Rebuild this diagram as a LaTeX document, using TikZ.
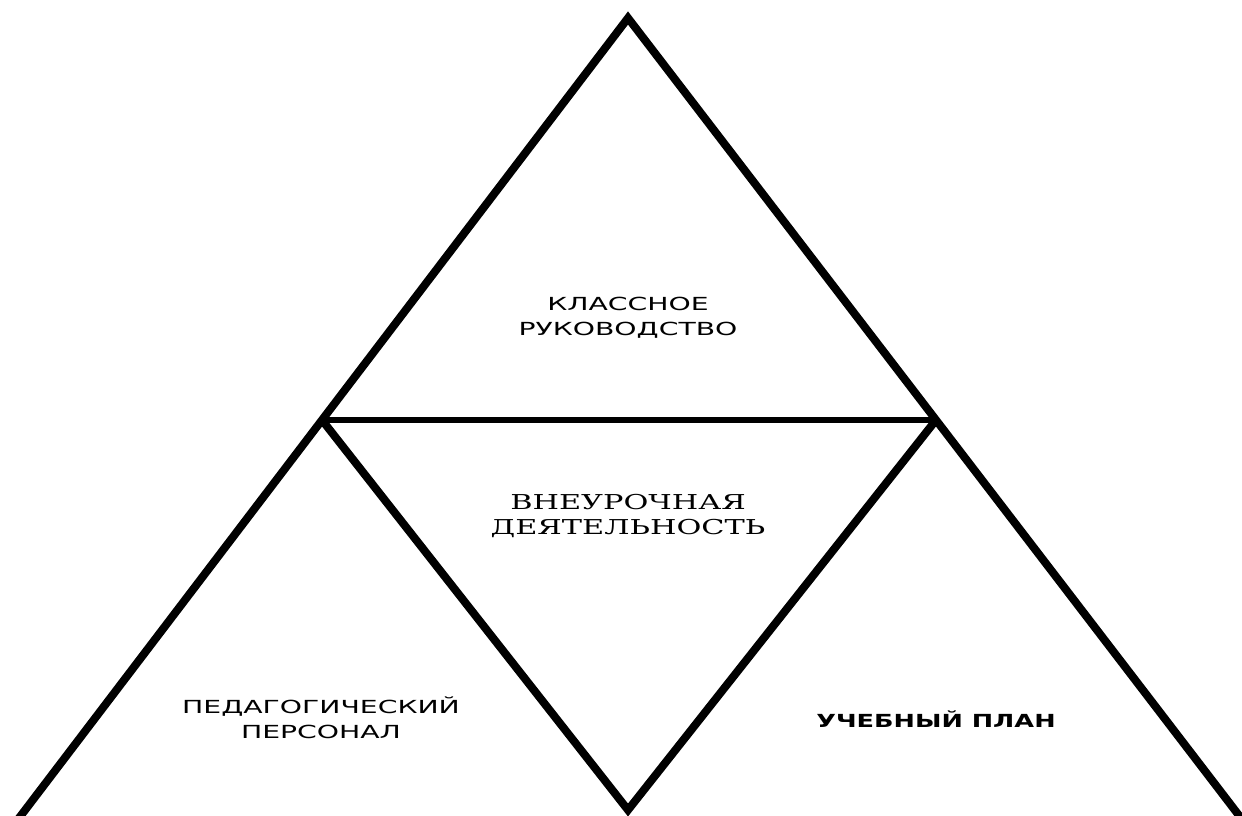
\documentclass[tikz,border=0pt]{standalone}
\usepackage{fontspec}
\usetikzlibrary{calc}
\newfontfamily\sansW[FakeStretch=1.57]{DejaVu Sans}
\newfontfamily\sansB[FakeStretch=1.42]{DejaVu Sans Bold}
\newfontfamily\serifW[FakeStretch=1.48]{DejaVu Serif}
\begin{document}
\begin{tikzpicture}[x=1pt,y=-1pt,
  edge/.style={line width=8pt,line join=miter,line cap=butt},
  midedge/.style={line width=5.5pt},
  lbl/.style={align=center,inner sep=0pt}]
\useasboundingbox (0,0) rectangle (1242,816);
\clip (0,0) rectangle (1242,816);
\coordinate (A) at (628,18);
\coordinate (L) at (322,420);
\coordinate (R) at (936,420);
\coordinate (B) at (628,810);
\coordinate (BL) at ($(A)!2.05!(L)$);
\coordinate (BR) at ($(A)!2.05!(R)$);
\draw[edge] (BL) -- (A) -- (BR);
\draw[edge] (L) -- (B) -- (R);
\draw[midedge] (L) -- (R);
\node[lbl,font=\sansW\fontsize{18}{25}\selectfont] (t1) at (628,318) {КЛАССНОЕ\\РУКОВОДСТВО};
\node[lbl,font=\serifW\fontsize{20.5}{25}\selectfont] (t2) at (628,516) {ВНЕУРОЧНАЯ\\ДЕЯТЕЛЬНОСТЬ};
\node[lbl,font=\sansW\fontsize{18}{25}\selectfont] (t3) at (321,718) {ПЕДАГОГИЧЕСКИЙ\\ПЕРСОНАЛ};
\node[lbl,font=\sansB\fontsize{18}{25}\selectfont] (t4) at (936,719) {УЧЕБНЫЙ ПЛАН};
\end{tikzpicture}
\end{document}
